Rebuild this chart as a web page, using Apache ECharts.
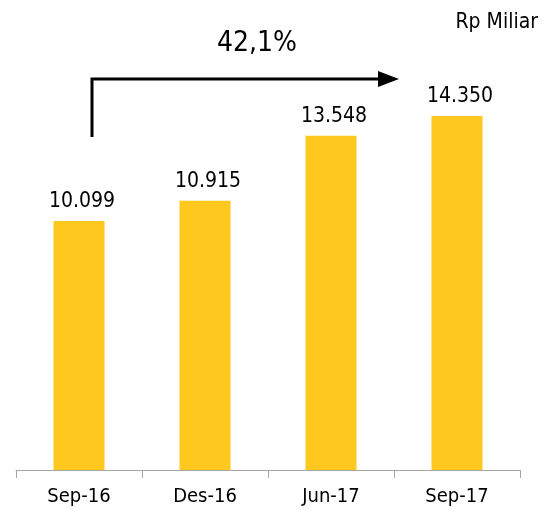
<!DOCTYPE html>
<html>
<head>
<meta charset="utf-8">
<script src="https://cdn.jsdelivr.net/npm/echarts@6/dist/echarts.min.js"></script>
<style>
  html, body { margin: 0; padding: 0; background: #fff; }
  #chart { width: 543px; height: 509px; }
</style>
</head>
<body>
<div id="chart"></div>
<script>
// periods and values (Rp Miliar)
const periods = ['Sep-16', 'Des-16', 'Jun-17', 'Sep-17']
const values = [10099, 10915, 13548, 14350]
const growthText = '42,1%'
const unitText = 'Rp Miliar'

const FONT = '"DejaVu Sans Condensed", "DejaVu Sans", sans-serif'

// id style number: 10.099
const fmt = (v) => {
  const s = String(v)
  return s.slice(0, s.length - 3) + '.' + s.slice(-3)
}

const chart = echarts.init(document.getElementById('chart'))

chart.setOption({
  animation: false,
  backgroundColor: '#ffffff',
  grid: { left: 16, right: 23, top: 26, bottom: 39 },
  xAxis: {
    type: 'category',
    data: periods,
    axisLine: { lineStyle: { color: '#a6a6a6', width: 1 } },
    axisTick: { show: true, length: 8, lineStyle: { color: '#a6a6a6' } },
    axisLabel: { color: '#000', fontFamily: FONT, fontSize: 20, margin: 17 }
  },
  yAxis: {
    type: 'value',
    min: 0,
    max: 18000,
    show: false,
    splitLine: { show: false }
  },
  series: [{
    type: 'bar',
    data: values,
    barWidth: 51,
    itemStyle: { color: '#FFC81E' },
    label: {
      show: true,
      position: 'top',
      distance: 9,
      offset: [3, 0],
      color: '#000',
      fontFamily: FONT,
      fontSize: 21,
      formatter: (p) => fmt(p.value)
    }
  }],
  graphic: [
    {
      type: 'text',
      right: 5,
      top: 12,
      style: { text: unitText, fill: '#000', font: '21px ' + FONT }
    },
    {
      type: 'text',
      x: 257,
      y: 44,
      style: { text: growthText, fill: '#000', font: '28px ' + FONT, align: 'center', verticalAlign: 'middle' }
    },
    {
      type: 'polyline',
      shape: { points: [[92, 137], [92, 79], [380, 79]] },
      style: { stroke: '#000', lineWidth: 3, fill: null }
    },
    {
      type: 'polygon',
      shape: { points: [[378, 71], [399, 79], [378, 87]] },
      style: { fill: '#000' }
    }
  ]
})
</script>
</body>
</html>
